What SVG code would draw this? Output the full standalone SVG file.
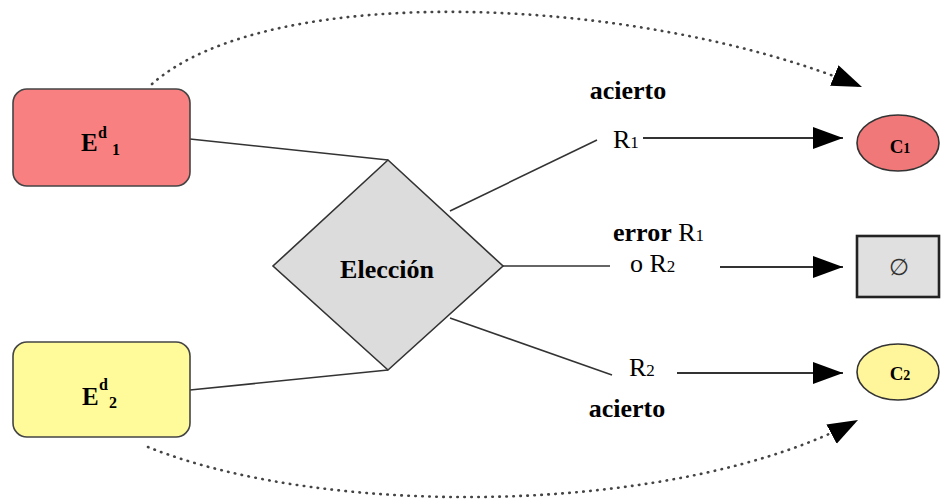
<svg xmlns="http://www.w3.org/2000/svg" width="942" height="503" viewBox="0 0 942 503">
<style>
text{font-family:"Liberation Serif","Times New Roman",serif;fill:#000}
.b{font-weight:bold}
.ln{stroke:#333;stroke-width:1.6;fill:none}
.ar{stroke:#333;stroke-width:2;fill:none;marker-end:url(#ah)}
.dot{stroke:#444;stroke-width:2.6;fill:none;stroke-dasharray:0.5 6.5;stroke-linecap:round;marker-end:url(#ah)}
.sub{font-size:17px}
</style>
<defs>
<marker id="ah" markerWidth="32" markerHeight="24" refX="30" refY="11" orient="auto" markerUnits="userSpaceOnUse">
<path d="M0,0 L30,11 L0,22 Z" fill="#000"/>
</marker>
</defs>
<g id="connectors">
<path class="ln" d="M190,139 L388,160"/>
<path class="ln" d="M190,390 L388,370"/>
<path class="ln" d="M450,211 L597,140"/>
<path class="ln" d="M503,266 L610,266"/>
<path class="ln" d="M450,318 L612,375"/>
<path class="ar" d="M643,138 L843,138"/>
<path class="ar" d="M720,267 L843,267"/>
<path class="ar" d="M677,373 L843,373"/>
<path class="dot" d="M152,84 C270,-20 640,-5 862,87"/>
<path class="dot" d="M148,447 C330,520 680,515 858,420"/>
</g>
<g id="E1">
<rect x="13" y="89" width="177" height="97" rx="14" fill="#F88080" stroke="#444" stroke-width="1.6"/>
<text class="b" x="81" y="151" font-size="25">E</text>
<text class="b" x="98" y="138" font-size="16">d</text>
<text class="b" x="112" y="155" font-size="16">1</text>
</g>
<g id="E2">
<rect x="13" y="342" width="177" height="95" rx="14" fill="#FFFB9A" stroke="#444" stroke-width="1.6"/>
<text class="b" x="82" y="405" font-size="25">E</text>
<text class="b" x="99" y="390" font-size="16">d</text>
<text class="b" x="109" y="408" font-size="16">2</text>
</g>
<g id="eleccion">
<path d="M388,160 L503,266 L388,370 L273,266 Z" fill="#DCDCDC" stroke="#333" stroke-width="1.6"/>
<text class="b" x="387" y="278" font-size="26" text-anchor="middle">Elección</text>
</g>
<g id="labels">
<text class="b" x="628" y="99" font-size="26" text-anchor="middle">acierto</text>
<text x="613" y="148" font-size="26">R<tspan class="sub">1</tspan></text>
<text x="613" y="241" font-size="26"><tspan class="b">error</tspan> R<tspan class="sub">1</tspan></text>
<text x="630" y="272" font-size="26">o R<tspan class="sub">2</tspan></text>
<text x="629" y="376" font-size="26">R<tspan class="sub">2</tspan></text>
<text class="b" x="627" y="417" font-size="26" text-anchor="middle">acierto</text>
</g>
<g id="C1">
<ellipse cx="898" cy="143" rx="41" ry="28" fill="#F07878" stroke="#333" stroke-width="1.6"/>
<text class="b" x="900" y="153" font-size="19" text-anchor="middle">C<tspan font-size="14">1</tspan></text>
</g>
<g id="null">
<rect x="857" y="236" width="82" height="61" fill="#E0E0E0" stroke="#222" stroke-width="2.6"/>
<text x="899" y="275" font-size="23" text-anchor="middle" style="font-family:'DejaVu Sans',sans-serif;fill:#333">∅</text>
</g>
<g id="C2">
<ellipse cx="898" cy="372" rx="41" ry="28" fill="#FFF59A" stroke="#333" stroke-width="1.6"/>
<text class="b" x="900" y="380" font-size="19" text-anchor="middle">C<tspan font-size="14">2</tspan></text>
</g>
</svg>
